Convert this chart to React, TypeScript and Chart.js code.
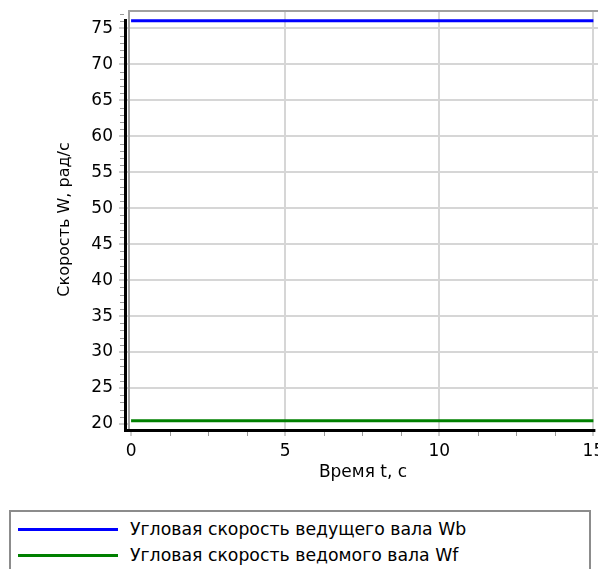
import React, { useEffect, useRef } from "react";
import { Chart, registerables } from "chart.js";

Chart.register(...registerables);

// ---- data ----
const TIME = [0, 15];
const WB = [76.08, 76.08];
const WF = [20.46, 20.46];
const X_TICKS = [0, 5, 10, 15];
const Y_TICKS = [20, 25, 30, 35, 40, 45, 50, 55, 60, 65, 70, 75];
const X_MINOR_STEP = 1.25;
const Y_MINOR_STEP = 1;
const SERIES_LABELS = [
  "Угловая скорость ведущего вала Wb",
  "Угловая скорость ведомого вала Wf",
];
const SERIES_COLORS = ["#0000ff", "#008000"];
const X_TITLE = "Время t, с";
const Y_TITLE = "Скорость W, рад/с";

const FONT = "'DejaVu Sans', sans-serif";
const GRID = "#d6d6d6";
const TICKC = "#9a9a9a";

const framePlugin = {
  id: "frame",
  afterDraw(chart: any) {
    const { ctx, chartArea: a, scales } = chart;
    const x = scales.x;
    const y = scales.y;
    ctx.save();
    // gray frame (top + left)
    ctx.strokeStyle = "#a0a0a0";
    ctx.lineWidth = 2;
    ctx.beginPath();
    ctx.moveTo(a.left, a.top + 1);
    ctx.lineTo(a.right, a.top + 1);
    ctx.moveTo(a.left + 1, a.top);
    ctx.lineTo(a.left + 1, a.bottom);
    ctx.stroke();
    // minor ticks
    ctx.strokeStyle = TICKC;
    ctx.lineWidth = 1;
    ctx.beginPath();
    for (let v = Math.ceil(y.min); v <= y.max; v += Y_MINOR_STEP) {
      if (Y_TICKS.includes(v)) continue;
      const py = Math.round(y.getPixelForValue(v)) + 0.5;
      ctx.moveTo(a.left - 8, py);
      ctx.lineTo(a.left - 4, py);
    }
    for (let i = 0; i * X_MINOR_STEP <= X_TICKS[X_TICKS.length - 1]; i++) {
      const v = i * X_MINOR_STEP;
      if (X_TICKS.includes(v)) continue;
      const px = Math.round(x.getPixelForValue(v)) + 0.5;
      ctx.moveTo(px, a.bottom + 3);
      ctx.lineTo(px, a.bottom + 7);
    }
    ctx.stroke();
    // black axes
    ctx.strokeStyle = "#000";
    ctx.lineWidth = 3;
    ctx.beginPath();
    ctx.moveTo(a.left - 2.5, a.top + 9);
    ctx.lineTo(a.left - 2.5, a.bottom + 3);
    ctx.moveTo(a.left - 3, a.bottom + 1.5);
    ctx.lineTo(x.getPixelForValue(X_TICKS[X_TICKS.length - 1]) + 2, a.bottom + 1.5);
    ctx.stroke();
    ctx.restore();
  },
};

function ChartView() {
  const ref = useRef<HTMLCanvasElement | null>(null);
  useEffect(() => {
    if (!ref.current) return;
    const chart = new Chart(ref.current, {
      type: "line",
      data: {
        labels: TIME,
        datasets: [
          {
            label: SERIES_LABELS[0],
            data: TIME.map((t, i) => ({ x: t, y: WB[i] })),
            borderColor: SERIES_COLORS[0],
            borderWidth: 3,
            pointRadius: 0,
            fill: false,
          },
          {
            label: SERIES_LABELS[1],
            data: TIME.map((t, i) => ({ x: t, y: WF[i] })),
            borderColor: SERIES_COLORS[1],
            borderWidth: 3,
            pointRadius: 0,
            fill: false,
          },
        ],
      },
      options: {
        responsive: false,
        animation: false,
        devicePixelRatio: 1,
        layout: { padding: { top: 10, right: 0, left: 0, bottom: 0 } },
        plugins: {
          legend: { display: false },
          tooltip: { enabled: false },
        },
        scales: {
          x: {
            type: "linear",
            min: -0.1,
            max: 15.15,
            afterBuildTicks: (s: any) => {
              s.ticks = X_TICKS.map((v) => ({ value: v }));
            },
            afterFit: (s: any) => {
              s.height = 61;
              s.paddingLeft = 0;
              s.paddingRight = 0;
            },
            border: { display: false },
            grid: {
              color: (c: any) => (c.tick && c.tick.value === 0 ? "rgba(0,0,0,0)" : GRID),
              lineWidth: 2,
              tickColor: TICKC,
              tickLength: 7,
              tickWidth: 1,
            },
            ticks: {
              autoSkip: false,
              maxRotation: 0,
              padding: 5,
              color: "#000",
              font: { family: FONT, size: 17 },
              callback: (v: any) => String(v),
            },
            title: {
              display: true,
              text: X_TITLE,
              color: "#000",
              font: { family: FONT, size: 17 },
              padding: { top: 0, bottom: 7 },
            },
          },
          y: {
            type: "linear",
            min: 19.3,
            max: 77.57,
            afterBuildTicks: (s: any) => {
              s.ticks = Y_TICKS.map((v) => ({ value: v }));
            },
            afterFit: (s: any) => {
              s.width = 128;
              s.paddingTop = 0;
              s.paddingBottom = 0;
            },
            border: { display: false },
            grid: {
              color: (c: any) => (c.tick && c.tick.value === 20 ? "rgba(0,0,0,0)" : GRID),
              lineWidth: 2,
              tickColor: TICKC,
              tickLength: 9,
              tickWidth: 1,
            },
            ticks: {
              autoSkip: false,
              padding: 6,
              color: "#000",
              font: { family: FONT, size: 17 },
              callback: (v: any) => String(v),
            },
            title: {
              display: true,
              text: Y_TITLE,
              color: "#000",
              font: { family: FONT, size: 16 },
              padding: { top: 55, bottom: 0 },
            },
          },
        },
      },
      plugins: [framePlugin],
    });
    return () => chart.destroy();
  }, []);
  return <canvas ref={ref} width={598} height={490} style={{ display: "block" }} />;
}

function Legend() {
  return (
    <div
      style={{
        position: "absolute",
        left: 9,
        top: 510,
        width: 582,
        height: 80,
        border: "2px solid #8c8c8c",
        boxSizing: "border-box",
        fontFamily: FONT,
        fontSize: 17.3,
        color: "#000",
      }}
    >
      {SERIES_LABELS.map((label, i) => (
        <div
          key={label}
          style={{
            position: "absolute",
            left: 7,
            top: 5 + i * 26,
            height: 24,
            display: "flex",
            alignItems: "center",
            whiteSpace: "nowrap",
          }}
        >
          <span
            style={{
              display: "inline-block",
              width: 100,
              height: 3,
              background: SERIES_COLORS[i],
              marginRight: 12,
            }}
          />
          <span>{label}</span>
        </div>
      ))}
    </div>
  );
}

export default function App() {
  return (
    <div
      style={{
        position: "fixed",
        left: 0,
        top: 0,
        width: 598,
        height: 569,
        background: "#fff",
        overflow: "hidden",
      }}
    >
      <ChartView />
      <Legend />
    </div>
  );
}
